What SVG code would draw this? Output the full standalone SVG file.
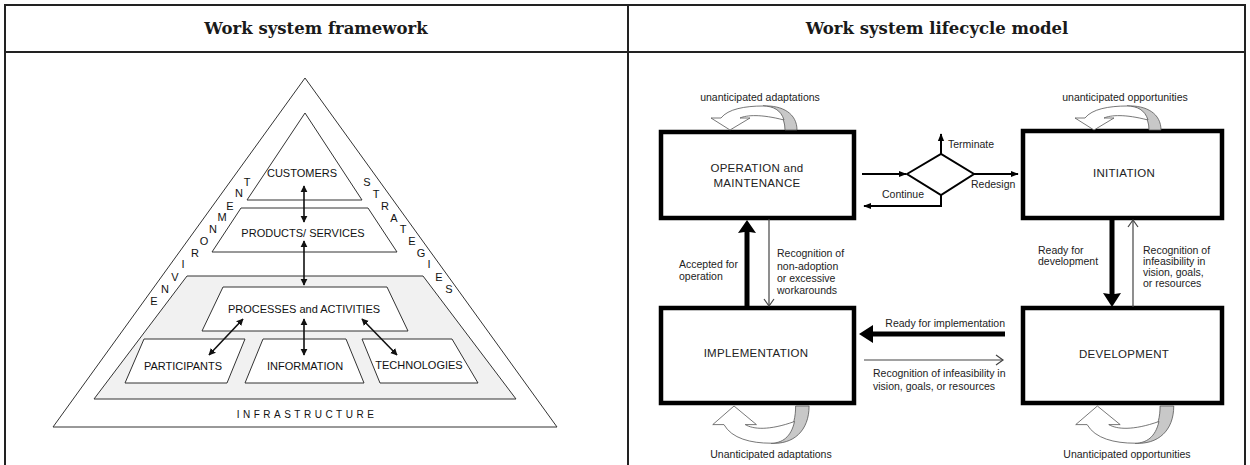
<svg xmlns="http://www.w3.org/2000/svg" width="1250" height="465" viewBox="0 0 1250 465">
<style>
.title{font-family:"DejaVu Serif","Liberation Serif",serif;font-weight:bold;font-size:16.5px;fill:#1a1a1a;text-anchor:middle}
.fw{font-family:"Liberation Sans",Arial,sans-serif;font-size:11px;fill:#111;text-anchor:middle}
.shape{fill:#fff;stroke:#333;stroke-width:1}
.band{fill:#f1f1f1;stroke:#333;stroke-width:1}
.dbl{stroke:#111;stroke-width:1.6;fill:none;marker-start:url(#tri);marker-end:url(#tri)}
.box{fill:#fff;stroke:#000;stroke-width:4.5}
.bt{font-family:"Liberation Sans",Arial,sans-serif;font-size:11.5px;fill:#222;text-anchor:middle;letter-spacing:0.3px}
.lb{font-family:"Liberation Sans",Arial,sans-serif;font-size:10.5px;fill:#222}
.mid{text-anchor:middle}
.end{text-anchor:end}
.thin{stroke:#444;stroke-width:1.2;fill:none}
.med{stroke:#000;stroke-width:2;fill:none;marker-end:url(#solid)}
.thick{fill:#000}
.grid{fill:none;stroke:#222;stroke-width:2}
</style>
<defs>
<marker id="tri" viewBox="0 0 10 10" refX="9" refY="5" markerWidth="7" markerHeight="8" markerUnits="userSpaceOnUse" orient="auto-start-reverse"><path d="M0,0 L10,5 L0,10 Z" fill="#111"/></marker>
<marker id="solid" viewBox="0 0 10 10" refX="9" refY="5" markerWidth="8" markerHeight="8" markerUnits="userSpaceOnUse" orient="auto"><path d="M0,1 L10,5 L0,9 Z" fill="#000"/></marker>
<!-- curved "turn-back" block arrow, base on y=0, arching upward -->
<g id="uturn">
<path d="M72,0 C72,-14 64,-23 50,-24 C70,-25 84,-16 84,0 Z" fill="#c8c8c8" stroke="#555" stroke-width="0.8" vector-effect="non-scaling-stroke"/>
<path d="M50,-24 C32,-24 15,-21 8,-12 L-2,-12 L17,0 L37,-12 L27,-12 C34,-15 48,-16 71,-10 C68,-20 60,-24 50,-24 Z" fill="#fff" stroke="#555" stroke-width="0.8" vector-effect="non-scaling-stroke"/>
</g>
</defs>

<rect width="1250" height="465" fill="#fff"/>

<!-- table frame -->
<g id="table">
<rect class="grid" x="5" y="5" width="1240" height="480"/>
<line class="grid" x1="5" y1="52" x2="1245" y2="52" stroke-width="2.5"/>
<line class="grid" x1="628" y1="5" x2="628" y2="465"/>
<text class="title" x="316" y="34">Work system framework</text>
<text class="title" x="937" y="34">Work system lifecycle model</text>
</g>

<!-- ===== Work system framework ===== -->
<g id="environment">
<path class="shape" d="M305,78 L557,427 L53,427 Z" stroke="#222"/>
<g class="fw">
<text x="154" y="305">E</text><text x="165" y="293">N</text><text x="175" y="281">V</text><text x="183" y="268">I</text>
<text x="195" y="257">R</text><text x="204" y="245">O</text><text x="213" y="233">N</text><text x="222" y="221">M</text>
<text x="230" y="210">E</text><text x="239" y="197">N</text><text x="247" y="186">T</text>
<text x="367" y="186">S</text><text x="376" y="198">T</text><text x="385" y="210">R</text><text x="394" y="222">A</text>
<text x="403" y="233">T</text><text x="412" y="245">E</text><text x="421" y="257">G</text><text x="429" y="268">I</text>
<text x="439" y="281">E</text><text x="449" y="293">S</text>
</g>
</g>

<g id="infrastructure">
<path class="band" d="M187,276 L423,276 L516,399 L94,399 Z"/>
<text class="fw" x="307" y="418" style="letter-spacing:3.5px;font-size:10px">INFRASTRUCTURE</text>
</g>

<g id="customers">
<path class="shape" d="M305,113 L362,200 L247,200 Z"/>
<text class="fw" x="302" y="177">CUSTOMERS</text>
</g>

<g id="products">
<path class="shape" d="M241,208 L368,208 L397,252 L212,252 Z"/>
<text class="fw" x="303" y="237">PRODUCTS/ SERVICES</text>
</g>

<g id="processes">
<path class="shape" d="M223,287 L387,287 L408,331 L202,331 Z"/>
<text class="fw" x="304" y="313">PROCESSES and ACTIVITIES</text>
</g>

<g id="participants">
<path class="shape" d="M144,339 L245,339 L227,383 L125,383 Z"/>
<text class="fw" x="183" y="370">PARTICIPANTS</text>
</g>

<g id="information">
<path class="shape" d="M263,339 L346,339 L364,383 L245,383 Z"/>
<text class="fw" x="305" y="370">INFORMATION</text>
</g>

<g id="technologies">
<path class="shape" d="M362,339 L452,339 L478,383 L380,383 Z"/>
<text class="fw" x="419" y="369">TECHNOLOGIES</text>
</g>

<g id="framework-links">
<line class="dbl" x1="304" y1="186" x2="304" y2="222"/>
<line class="dbl" x1="304" y1="241" x2="304" y2="285"/>
<line class="dbl" x1="304" y1="319" x2="304" y2="355"/>
<line class="dbl" x1="243" y1="319" x2="209" y2="355"/>
<line class="dbl" x1="362" y1="319" x2="397" y2="355"/>
</g>

<!-- ===== Work system lifecycle model ===== -->
<g id="operation">
<rect class="box" x="661" y="132" width="193" height="86"/>
<text class="bt" x="757" y="172">OPERATION and</text>
<text class="bt" x="757" y="187">MAINTENANCE</text>
</g>

<g id="initiation">
<rect class="box" x="1023" y="131" width="199" height="87"/>
<text class="bt" x="1124" y="177">INITIATION</text>
</g>

<g id="implementation">
<rect class="box" x="661" y="308" width="193" height="95"/>
<text class="bt" x="756" y="357">IMPLEMENTATION</text>
</g>

<g id="development">
<rect class="box" x="1023" y="308" width="199" height="95"/>
<text class="bt" x="1124" y="358">DEVELOPMENT</text>
</g>

<g id="decision">
<path d="M907,174 L941,154 L974,174 L941,195 Z" fill="#fff" stroke="#000" stroke-width="2"/>
</g>

<g id="lifecycle-links">
<!-- decision point -->
<line class="med" x1="862" y1="174" x2="906" y2="174"/>
<line class="med" x1="941" y1="154" x2="941" y2="134"/>
<line class="med" x1="974" y1="174" x2="1018" y2="174"/>
<polyline class="med" points="941,195 941,206 864,206"/>
<text class="lb" x="948" y="148">Terminate</text>
<text class="lb" x="971" y="188">Redesign</text>
<text class="lb" x="882" y="198">Continue</text>

<!-- main transitions -->
<path class="thick" d="M744.5,306 L744.5,232 L738,233 L747,220 L756,233 L749.5,232 L749.5,306 Z"/>
<path class="thick" d="M1109.5,220 L1109.5,294 L1103,293 L1112,307 L1121,293 L1114.5,294 L1114.5,220 Z"/>
<path class="thick" d="M1005,331.5 L873,331.5 L873,325 L859,334 L873,343 L873,336.5 L1005,336.5 Z"/>

<!-- feedback paths -->
<line class="thin" x1="769" y1="219" x2="769" y2="305"/>
<polyline class="thin" points="764,299 769,306 774,299"/>
<line class="thin" x1="1133" y1="307" x2="1133" y2="221"/>
<polyline class="thin" points="1128,227 1133,220 1138,227"/>
<line class="thin" x1="864" y1="360" x2="1003" y2="360"/>
<polyline class="thin" points="996,355 1003,360 996,365"/>

<text class="lb" x="679" y="268">Accepted for</text>
<text class="lb" x="679" y="280">operation</text>
<text class="lb" x="777" y="257">Recognition of</text>
<text class="lb" x="777" y="270">non-adoption</text>
<text class="lb" x="777" y="282">or excessive</text>
<text class="lb" x="777" y="294">workarounds</text>
<text class="lb" x="1038" y="254">Ready for</text>
<text class="lb" x="1038" y="265">development</text>
<text class="lb" x="1143" y="254">Recognition of</text>
<text class="lb" x="1143" y="265">infeasibility in</text>
<text class="lb" x="1143" y="276">vision, goals,</text>
<text class="lb" x="1143" y="287">or resources</text>
<text class="lb end" x="1005" y="327">Ready for implementation</text>
<text class="lb" x="873" y="377">Recognition of infeasibility in</text>
<text class="lb" x="873" y="390">vision, goals, or resources</text>

<!-- self loops -->
<use href="#uturn" transform="translate(713,130)"/>
<use href="#uturn" transform="translate(1077,130)"/>
<use href="#uturn" transform="translate(715,406) scale(1.12,-1.55)"/>
<use href="#uturn" transform="translate(1078,406) scale(1.14,-1.55)"/>
<text class="lb mid" x="760" y="101">unanticipated adaptations</text>
<text class="lb mid" x="1125" y="101">unanticipated opportunities</text>
<text class="lb mid" x="771" y="458">Unanticipated adaptations</text>
<text class="lb mid" x="1127" y="458">Unanticipated opportunities</text>
</g>
</svg>
